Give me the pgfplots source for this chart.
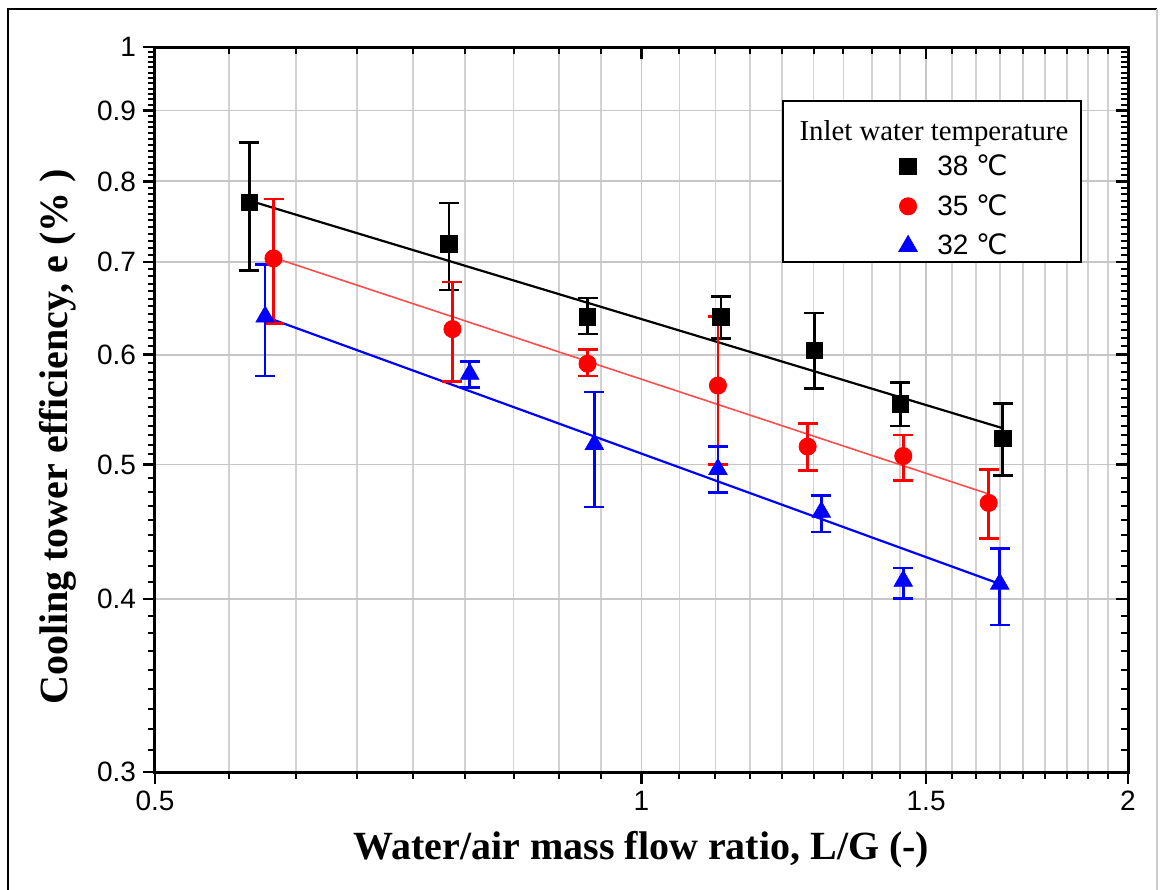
\documentclass[border=0pt]{standalone}
\usepackage{pgfplots}
\pgfplotsset{compat=1.18}
\usepackage{pgfplotstable}
\usepackage{fontspec}
\setmainfont{Liberation Serif}
\setsansfont{Liberation Sans}
\newfontfamily\dejavu{DejaVu Sans}
\newcommand\degC{{\dejavu ℃}}

% x y top-of-bar bottom-of-bar
\pgfplotstableread{
x     y     top   bot
0.572 0.773 0.853 0.690
0.760 0.721 0.772 0.668
0.926 0.639 0.659 0.621
1.120 0.639 0.661 0.616
1.279 0.604 0.643 0.567
1.446 0.553 0.573 0.533
1.673 0.522 0.553 0.491
}\tblack
\pgfplotstableread{
x     y     top   bot
0.592 0.704 0.777 0.632
0.764 0.626 0.677 0.574
0.926 0.591 0.605 0.579
1.115 0.570 0.639 0.500
1.267 0.515 0.535 0.495
1.452 0.507 0.525 0.487
1.640 0.469 0.496 0.442
}\tred
\pgfplotstableread{
x     y     top   bot
0.585 0.639 0.697 0.579
0.783 0.581 0.593 0.568
0.935 0.517 0.564 0.466
1.115 0.496 0.515 0.477
1.292 0.462 0.475 0.447
1.452 0.412 0.421 0.400
1.666 0.410 0.435 0.383
}\tblue

\pgfplotsset{
  ctbase/.style={
    scale only axis, width=486.5bp, height=362.5bp,
    xmin=0.5, xmax=2, ymin=0.3, ymax=1,
    xtick={0.5,1,1.5,2},
    ytick={0.3,0.4,0.5,0.6,0.7,0.8,0.9,1},
    minor xtick={0.5556,0.6111,0.6667,0.7222,0.7778,0.8333,0.8889,0.9444,
      1.0556,1.1111,1.1667,1.2222,1.2778,1.3333,1.3889,1.4444,
      1.5556,1.6111,1.6667,1.7222,1.7778,1.8333,1.8889,1.9444},
    minor ytick={0.3111,0.3222,0.3333,0.3444,0.3556,0.3667,0.3778,0.3889,
      0.4111,0.4222,0.4333,0.4444,0.4556,0.4667,0.4778,0.4889,
      0.5083,0.5167,0.5250,0.5333,0.5417,0.5500,0.5583,0.5667,0.5750,0.5833,0.5917,
      0.6083,0.6167,0.6250,0.6333,0.6417,0.6500,0.6583,0.6667,0.6750,0.6833,0.6917,
      0.7083,0.7167,0.7250,0.7333,0.7417,0.7500,0.7583,0.7667,0.7750,0.7833,0.7917,
      0.8083,0.8167,0.8250,0.8333,0.8417,0.8500,0.8583,0.8667,0.8750,0.8833,0.8917,
      0.9083,0.9167,0.9250,0.9333,0.9417,0.9500,0.9583,0.9667,0.9750,0.9833,0.9917},
    axis line style={line width=1.5bp},
    major tick length=6bp, minor tick length=3.5bp,
    every tick/.style={black, line width=1.2bp},
    every minor tick/.style={black, line width=1bp},
  },
  errs/.style={error bars/.cd, y dir=both, y explicit,
    error bar style={line width=1.3bp},
    error mark options={rotate=90, line width=1.3bp, mark size=5bp}},
}

\begin{document}
\begin{tikzpicture}
\begin{axis}[xmode=log, ymode=log, ctbase,
  xticklabels={0.5,1,1.5,2}, yticklabels={0.3,0.4,0.5,0.6,0.7,0.8,0.9,1},
  tick align=outside, xtick pos=bottom, ytick pos=left,
  xmajorgrids, xminorgrids, ymajorgrids,
  major grid style={gray!45, line width=0.9bp},
  minor grid style={gray!35, line width=0.9bp},
  ticklabel style={font=\sffamily\fontsize{14bp}{16bp}\selectfont},
  /pgf/number format/assume math mode=true,
  every axis x label/.style={at={(rel axis cs:0.5,0)}, anchor=center, yshift=-39bp},
  every axis y label/.style={at={(rel axis cs:0,0.462)}, anchor=center, xshift=-48.5bp, rotate=90},
  label style={font=\bfseries\fontsize{20bp}{22bp}\selectfont},
  xlabel={Water/air mass flow ratio, L/G (-)},
  ylabel={Cooling tower efficiency, e (\% )},
  legend style={draw=none, fill=none, at={(rel axis cs:0.758,0.863)}, anchor=north west,
    font=\sffamily\fontsize{14bp}{16bp}\selectfont, row sep=4bp,
    /tikz/every odd column/.append style={column sep=8bp}},
  legend cell align=left,
]
\coordinate (O) at (rel axis cs:0,0);
% fitted lines
\addplot[black, line width=1.1bp, forget plot] coordinates {(0.572,0.775) (1.673,0.531)};
\addplot[red!70, line width=0.8bp, forget plot] coordinates {(0.592,0.705) (1.640,0.476)};
\addplot[blue, line width=1.1bp, forget plot] coordinates {(0.585,0.639) (1.666,0.410)};
% measured points
\addplot[black, only marks, mark=square*, mark size=4.1bp, errs]
  table[x=x, y=y, y error plus expr=\thisrow{top}-\thisrow{y}, y error minus expr=\thisrow{y}-\thisrow{bot}] {\tblack};
\addlegendentry{38 \degC}
\addplot[red, only marks, mark=*, mark size=4.3bp, errs]
  table[x=x, y=y, y error plus expr=\thisrow{top}-\thisrow{y}, y error minus expr=\thisrow{y}-\thisrow{bot}] {\tred};
\addlegendentry{35 \degC}
\addplot[blue, only marks, mark=triangle*, mark size=5.3bp, errs]
  table[x=x, y=y, y error plus expr=\thisrow{top}-\thisrow{y}, y error minus expr=\thisrow{y}-\thisrow{bot}] {\tblue};
\addlegendentry{32 \degC}
% legend frame and title
\draw[fill=white, line width=1bp] (rel axis cs:0.645,0.703) rectangle (rel axis cs:0.952,0.9255);
\node[font=\fontsize{14.4bp}{16bp}\selectfont] at (rel axis cs:0.8006,0.881) {Inlet water temperature};
\end{axis}
\begin{axis}[xmode=log, ymode=log, ctbase,
  tick align=inside, xtick pos=top, ytick pos=right,
  xticklabels={}, yticklabels={},
]
\end{axis}
% outer frame of the figure
\draw[line width=1.2bp] ([shift={(-73.5bp,-59bp)}]O) -- ([shift={(-73.5bp,381.5bp)}]O) -- ([shift={(501bp,381.5bp)}]O);
\draw[gray!40, line width=1bp] ([shift={(501bp,381.5bp)}]O) -- ([shift={(501bp,-59bp)}]O);
\pgfresetboundingbox
\path ([shift={(-77.5bp,-59bp)}]O) rectangle ([shift={(502.5bp,386bp)}]O);
\end{tikzpicture}
\end{document}
